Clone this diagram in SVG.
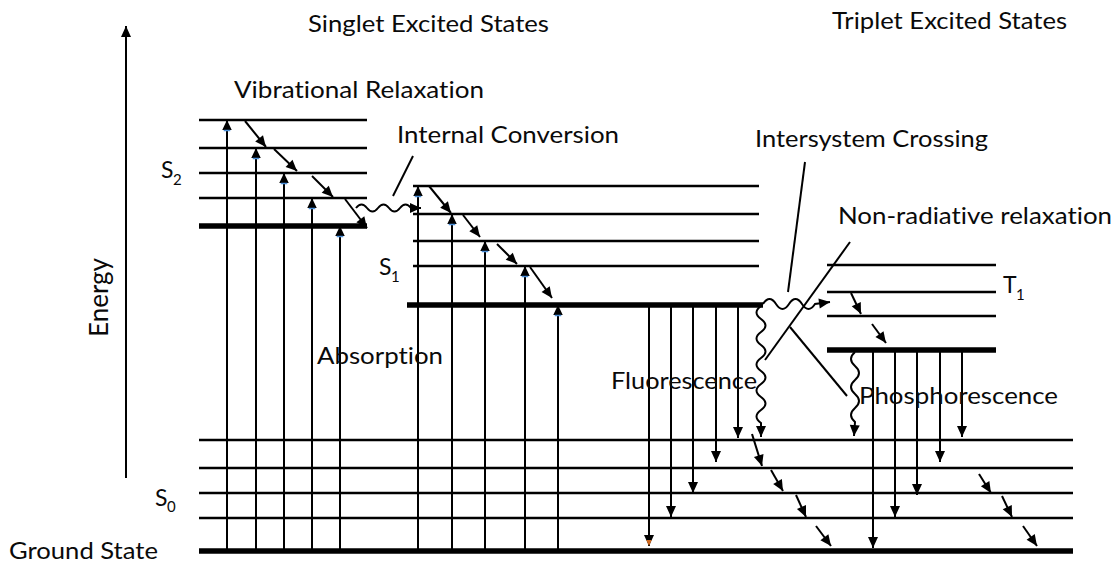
<svg xmlns="http://www.w3.org/2000/svg" width="1115" height="562" viewBox="0 0 1115 562">
<style>
.lv{stroke:#000;stroke-width:2.5;fill:none}
.lvt{stroke:#000;stroke-width:5.5;fill:none}
.ar{stroke:#000;stroke-width:2;fill:none}
.ab{stroke:#000;stroke-width:2;fill:none;marker-end:url(#headB)}
.dn{stroke:#000;stroke-width:2;fill:none;marker-end:url(#head)}
.wv{stroke:#000;stroke-width:2;fill:none;marker-end:url(#head)}
.pt{stroke:#000;stroke-width:2;fill:none}
text{font-family:Lato,"Liberation Sans",sans-serif;font-size:23px;fill:#0a0a0a;font-variant-ligatures:none;font-feature-settings:"liga" 0}
.sub{font-size:15px}
</style>
<defs>
<marker id="head" markerUnits="userSpaceOnUse" markerWidth="12" markerHeight="10" refX="11" refY="5" orient="auto" overflow="visible">
<path d="M0,0 L11,5 L0,10 z" fill="#000"/>
</marker>
<marker id="headB" markerUnits="userSpaceOnUse" markerWidth="12" markerHeight="10" refX="10" refY="4.75" orient="auto" overflow="visible">
<path d="M0,0 L10,4.75 L0,9.5 z" fill="#000"/>
<path d="M-0.5,1.5 L-0.5,8" stroke="#4a8fd8" stroke-width="1.5"/>
</marker>
<marker id="headO" markerUnits="userSpaceOnUse" markerWidth="12" markerHeight="10" refX="11" refY="5" orient="auto" overflow="visible">
<path d="M0,0 L11,5 L0,10 z" fill="#000"/>
<path d="M5,2.3 L11,5 L5,7.7 z" fill="#d2691e"/>
</marker>
</defs>

<g id="axis">
<line class="ar" x1="126" y1="478" x2="126" y2="26" style="marker-end:url(#head)"/>
<text transform="translate(108,297.5) scale(1.15,1) rotate(-90)" text-anchor="middle" textLength="79" lengthAdjust="spacingAndGlyphs">Energy</text>
</g>

<g id="S2">
<line class="lv" x1="199" y1="120" x2="367" y2="120"/>
<line class="lv" x1="199" y1="148" x2="367" y2="148"/>
<line class="lv" x1="199" y1="173" x2="367" y2="173"/>
<line class="lv" x1="199" y1="198" x2="367" y2="198"/>
<line class="lvt" x1="199" y1="226" x2="367" y2="226"/>
<text x="161" y="178">S</text><text class="sub" x="173" y="185">2</text>
</g>

<g id="S1">
<line class="lv" x1="413" y1="186" x2="759" y2="186"/>
<line class="lv" x1="413" y1="214" x2="759" y2="214"/>
<line class="lv" x1="413" y1="241" x2="759" y2="241"/>
<line class="lv" x1="413" y1="266" x2="759" y2="266"/>
<line class="lvt" x1="407" y1="305" x2="763" y2="305"/>
<text x="379" y="275">S</text><text class="sub" x="391" y="282">1</text>
</g>

<g id="T1">
<line class="lv" x1="827" y1="265" x2="996" y2="265"/>
<line class="lv" x1="827" y1="292" x2="996" y2="292"/>
<line class="lv" x1="827" y1="316" x2="996" y2="316"/>
<line class="lvt" x1="827" y1="350" x2="996" y2="350"/>
<text x="1003" y="293">T</text><text class="sub" x="1016" y="300">1</text>
</g>

<g id="S0">
<line class="lv" x1="199" y1="440" x2="1073" y2="440"/>
<line class="lv" x1="199" y1="468" x2="1073" y2="468"/>
<line class="lv" x1="199" y1="493" x2="1073" y2="493"/>
<line class="lv" x1="199" y1="518" x2="1073" y2="518"/>
<line class="lvt" x1="199" y1="551" x2="1073" y2="551"/>
<text x="155" y="506">S</text><text class="sub" x="167" y="512">0</text>
<text x="9" y="559" textLength="149" lengthAdjust="spacingAndGlyphs">Ground State</text>
</g>

<g id="headers">
<text x="308" y="32" textLength="241" lengthAdjust="spacingAndGlyphs">Singlet Excited States</text>
<text x="832" y="29" textLength="235" lengthAdjust="spacingAndGlyphs">Triplet Excited States</text>
</g>

<g id="connectors">
<line class="ab" x1="227" y1="549" x2="227" y2="120"/>
<line class="ab" x1="256" y1="549" x2="256" y2="148"/>
<line class="ab" x1="284" y1="549" x2="284" y2="173"/>
<line class="ab" x1="312" y1="549" x2="312" y2="198"/>
<line class="ab" x1="340" y1="549" x2="340" y2="226"/>
<line class="ab" x1="418" y1="549" x2="418" y2="186"/>
<line class="ab" x1="452" y1="549" x2="452" y2="214"/>
<line class="ab" x1="485" y1="549" x2="485" y2="241"/>
<line class="ab" x1="525" y1="549" x2="525" y2="266"/>
<line class="ab" x1="558" y1="549" x2="558" y2="305"/>
<line class="dn" x1="245" y1="121" x2="266" y2="147"/>
<line class="dn" x1="274" y1="149" x2="297" y2="171"/>
<line class="dn" x1="312" y1="176" x2="333" y2="197"/>
<line class="dn" x1="345" y1="199" x2="367" y2="228"/>
<line class="dn" x1="429" y1="186" x2="451" y2="213"/>
<line class="dn" x1="463" y1="215" x2="480" y2="237"/>
<line class="dn" x1="497" y1="244" x2="517" y2="264"/>
<line class="dn" x1="530" y1="267" x2="552" y2="298"/>
<line class="dn" x1="851" y1="293" x2="861" y2="314"/>
<line class="dn" x1="872" y1="324" x2="886" y2="343"/>
<line class="dn" x1="752" y1="434" x2="762" y2="466"/>
<line class="dn" x1="771" y1="470" x2="783" y2="491"/>
<line class="dn" x1="796" y1="495" x2="806" y2="517"/>
<line class="dn" x1="816" y1="526" x2="831" y2="546"/>
<line class="dn" x1="979" y1="474" x2="991" y2="493"/>
<line class="dn" x1="1002" y1="496" x2="1012" y2="517"/>
<line class="dn" x1="1023" y1="526" x2="1037" y2="546"/>
<line class="ar" x1="649" y1="305" x2="649" y2="546" marker-end="url(#headO)"/>
<line class="dn" x1="671" y1="305" x2="671" y2="517"/>
<line class="dn" x1="693" y1="305" x2="693" y2="493"/>
<line class="dn" x1="716" y1="305" x2="716" y2="462"/>
<line class="dn" x1="738" y1="305" x2="738" y2="438"/>
<line class="dn" x1="873" y1="350" x2="873" y2="548"/>
<line class="dn" x1="895" y1="350" x2="895" y2="517"/>
<line class="dn" x1="917" y1="350" x2="917" y2="495"/>
<line class="dn" x1="940" y1="350" x2="940" y2="462"/>
<line class="dn" x1="962" y1="350" x2="962" y2="437"/>
<path class="wv" d="M356,208 q5.5,-7 11,0 t11,0 t11,0 t11,0 t11,0 l10,0"/>
<path class="wv" d="M763,304 q6.5,-10 13,0 t13,0 t13,0 t13,0 l15,-2"/>
<path class="wv" d="M761,306 q-9,6.5 0,13 t0,13 t0,13 t0,13 t0,13 t0,13 t0,13 t0,13 t0,13 l0,14"/>
<path class="wv" d="M855,352 q-8,7 0,14 t0,14 t0,14 t0,14 t0,14 l-1,14"/>
</g>

<g id="labels">
<text x="234" y="98" textLength="250" lengthAdjust="spacingAndGlyphs">Vibrational Relaxation</text>
<text x="397" y="143" textLength="222" lengthAdjust="spacingAndGlyphs">Internal Conversion</text>
<line class="pt" x1="413" y1="156" x2="393" y2="196"/>
<text x="755" y="147" textLength="233" lengthAdjust="spacingAndGlyphs">Intersystem Crossing</text>
<line class="pt" x1="805" y1="162" x2="788" y2="292"/>
<text x="838" y="224" textLength="274" lengthAdjust="spacingAndGlyphs">Non-radiative relaxation</text>
<line class="pt" x1="850" y1="242" x2="765" y2="360"/>
<line class="pt" x1="790" y1="327" x2="847" y2="396"/>
<text x="317" y="364" textLength="126" lengthAdjust="spacingAndGlyphs">Absorption</text>
<text x="611" y="389" textLength="146" lengthAdjust="spacingAndGlyphs">Fluorescence</text>
<text x="859" y="404" textLength="199" lengthAdjust="spacingAndGlyphs">Phosphorescence</text>
</g>
</svg>
